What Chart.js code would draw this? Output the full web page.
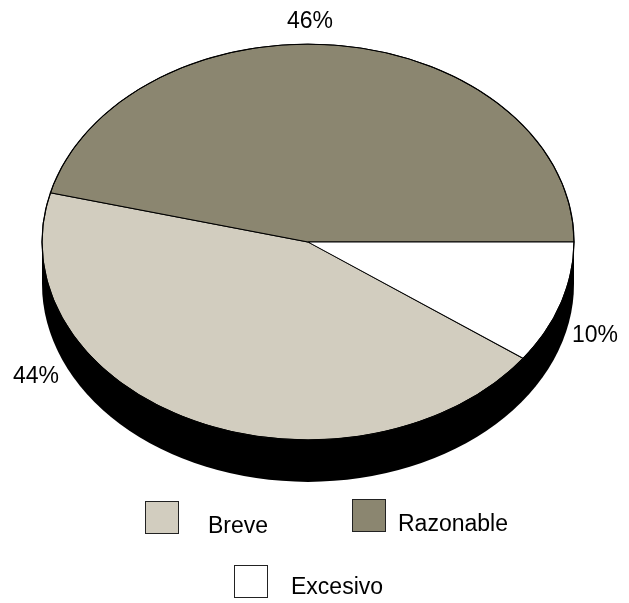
<!DOCTYPE html>
<html lang="es">
<head>
    <meta charset="UTF-8">
    <title>Pie 3D</title>
    <script src="https://cdn.jsdelivr.net/npm/chart.js@4.4.3/dist/chart.umd.min.js"></script>
    <style>
        html, body { margin: 0; padding: 0; background: #fff; }
        #wrap { width: 629px; height: 603px; position: relative; }
    </style>
</head>
<body>
    <div id="wrap"><canvas id="pieChart" width="629" height="603"></canvas></div>
    <script>
        // data
        const categories = ['Breve', 'Razonable', 'Excesivo'];
        const shares = [44, 46, 10];
        const sliceColors = ['#d2cdbf', '#8b8670', '#ffffff'];

        const FONT = "'Liberation Sans', Arial, sans-serif";
        const tilt = 0.744;   // vertical squash of the pie
        const depth = 42;     // thickness of the side

        // squash the pie into an ellipse and draw the black side under it
        const tiltPlugin = {
            id: 'tilt',
            beforeDatasetsDraw(chart) {
                const arc = chart.getDatasetMeta(0).data[0];
                const ctx = chart.ctx;
                const cx = arc.x, cy = arc.y, rx = arc.outerRadius, ry = rx * tilt;
                ctx.save();
                ctx.fillStyle = '#000';
                ctx.beginPath();
                ctx.ellipse(cx, cy + depth, rx, ry, 0, 0, Math.PI);
                ctx.lineTo(cx - rx, cy);
                ctx.lineTo(cx + rx, cy);
                ctx.closePath();
                ctx.fill();
                ctx.translate(cx, cy);
                ctx.scale(1, tilt);
                ctx.translate(-cx, -cy);
            },
            afterDatasetsDraw(chart) {
                chart.ctx.restore();
                // outline of the top face
                const arc = chart.getDatasetMeta(0).data[0];
                const ctx = chart.ctx;
                ctx.save();
                ctx.strokeStyle = '#000';
                ctx.lineWidth = 1;
                ctx.beginPath();
                ctx.ellipse(arc.x, arc.y, arc.outerRadius, arc.outerRadius * tilt, 0, 0, Math.PI * 2);
                ctx.stroke();
                ctx.restore();
            }
        };

        // percentage labels and legend, placed like the original
        const labelPlugin = {
            id: 'labels',
            afterDraw(chart) {
                const ctx = chart.ctx;
                const arc = chart.getDatasetMeta(0).data[0];
                const cx = arc.x, cy = arc.y, rx = arc.outerRadius, ry = rx * tilt;
                const values = chart.data.datasets[0].data;
                const total = values.reduce((a, b) => a + b, 0);
                const pct = values.map(v => Math.round(v / total * 100) + '%');

                ctx.save();
                ctx.fillStyle = '#000';
                ctx.font = '23px ' + FONT;
                ctx.textAlign = 'center';
                ctx.textBaseline = 'alphabetic';
                // Breve, Razonable, Excesivo
                const spots = [
                    [cx - rx - 6, cy + 141],
                    [cx + 2, cy - ry - 16],
                    [cx + rx + 21, cy + 100]
                ];
                pct.forEach((t, i) => ctx.fillText(t, spots[i][0], spots[i][1]));

                // legend
                const items = [
                    {box: [145, 501], text: [208, 533]},
                    {box: [352, 499], text: [398, 531]},
                    {box: [234, 565], text: [291, 594]}
                ];
                ctx.textAlign = 'left';
                chart.data.labels.forEach((lab, i) => {
                    const it = items[i];
                    ctx.fillStyle = chart.data.datasets[0].backgroundColor[i];
                    ctx.fillRect(it.box[0] + 0.5, it.box[1] + 0.5, 33, 32);
                    ctx.strokeStyle = '#222';
                    ctx.lineWidth = 1;
                    ctx.strokeRect(it.box[0] + 0.5, it.box[1] + 0.5, 33, 32);
                    ctx.fillStyle = '#000';
                    ctx.fillText(lab, it.text[0], it.text[1]);
                });
                ctx.restore();
            }
        };

        const ctx = document.getElementById('pieChart').getContext('2d');
        new Chart(ctx, {
            type: 'pie',
            data: {
                labels: categories,
                datasets: [{
                    data: shares,
                    backgroundColor: sliceColors,
                    borderColor: '#000',
                    borderWidth: 1.2,
                    clip: false
                }]
            },
            options: {
                responsive: false,
                animation: false,
                events: [],
                rotation: 126,
                radius: 266,
                layout: { padding: { left: 0, right: 13, top: 0, bottom: 119 } },
                plugins: {
                    legend: { display: false },
                    tooltip: { enabled: false }
                }
            },
            plugins: [tiltPlugin, labelPlugin]
        });
    </script>
</body>
</html>
